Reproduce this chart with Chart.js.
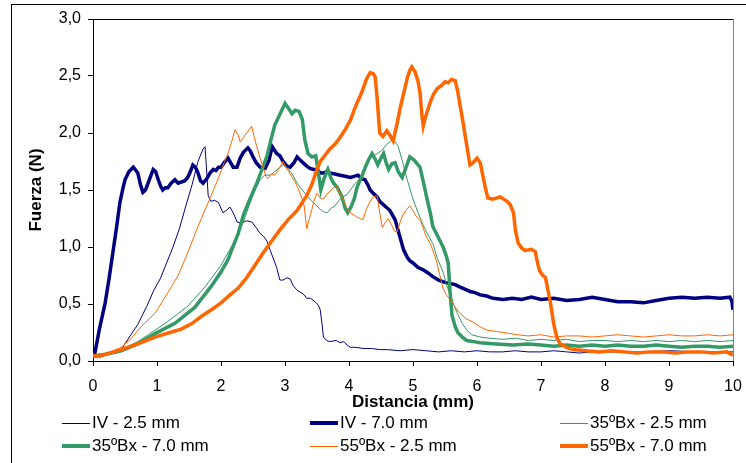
<!DOCTYPE html>
<html><head><meta charset="utf-8">
<script src="https://cdn.jsdelivr.net/npm/chart.js@4"></script>
<style>
html,body{margin:0;padding:0;background:#fff;}
#wrap{position:relative;width:746px;height:463px;overflow:hidden;background:#fff;}
#frame{position:absolute;left:11px;top:4px;width:800px;height:500px;border-left:1px solid #000;border-top:1px solid #000;}
#c{position:absolute;left:0;top:0;}
.lt{position:absolute;font:17px "Liberation Sans",Arial,sans-serif;color:#000;white-space:nowrap;line-height:18px;}
.ls{position:absolute;width:28px;}
</style></head>
<body><div id="wrap"><div id="frame"></div><canvas id="c" width="746" height="463"></canvas></div>
<script>
// ---- data (x = distancia mm, y = fuerza N) ----
const seriesNames = ["IV - 2.5 mm", "IV - 7.0 mm", "35\u00BABx - 2.5 mm", "35\u00BABx - 7.0 mm", "55\u00BABx - 2.5 mm", "55\u00BABx - 7.0 mm"];
const xTicks = [0,1,2,3,4,5,6,7,8,9,10];
const yTicks = [0,0.5,1,1.5,2,2.5,3];

const iv25 = [[0,0.05],[0.1,0.06],[0.2,0.06],[0.3,0.08],[0.44,0.10],[0.58,0.22],[0.7,0.32],[0.84,0.48],[0.95,0.62],[1.05,0.72],[1.15,0.86],[1.25,1.0],[1.35,1.16],[1.45,1.36],[1.55,1.55],[1.64,1.75],[1.72,1.86],[1.75,1.88],[1.77,1.72],[1.8,1.45],[1.84,1.40],[1.9,1.41],[1.96,1.39],[2.03,1.30],[2.08,1.32],[2.14,1.35],[2.2,1.29],[2.25,1.22],[2.32,1.21],[2.4,1.23],[2.48,1.22],[2.55,1.17],[2.61,1.12],[2.67,1.09],[2.72,1.05],[2.77,0.97],[2.81,0.91],[2.87,0.82],[2.92,0.71],[2.97,0.71],[3.03,0.73],[3.08,0.72],[3.13,0.66],[3.19,0.62],[3.25,0.60],[3.3,0.58],[3.34,0.55],[3.4,0.55],[3.47,0.52],[3.52,0.49],[3.55,0.45],[3.58,0.32],[3.6,0.21],[3.65,0.18],[3.7,0.17],[3.8,0.18],[3.86,0.16],[3.92,0.17],[3.97,0.14],[4.02,0.12],[4.1,0.12],[4.22,0.11],[4.35,0.11],[4.48,0.10],[4.6,0.10],[4.8,0.09],[5.0,0.10],[5.2,0.09],[5.4,0.08],[5.6,0.09],[5.8,0.08],[6.0,0.09],[6.2,0.08],[6.4,0.08],[6.6,0.09],[6.8,0.08],[7.0,0.08],[7.2,0.09],[7.4,0.08],[7.6,0.07],[7.8,0.08],[8.0,0.08],[8.5,0.08],[9.0,0.09],[9.5,0.08],[10,0.08]];

const iv70 = [[0,0.05],[0.03,0.07],[0.1,0.28],[0.19,0.51],[0.25,0.72],[0.31,0.95],[0.37,1.18],[0.42,1.39],[0.47,1.52],[0.5,1.59],[0.56,1.66],[0.63,1.70],[0.7,1.65],[0.74,1.55],[0.78,1.48],[0.82,1.50],[0.86,1.56],[0.9,1.62],[0.94,1.68],[0.98,1.66],[1.02,1.59],[1.06,1.53],[1.09,1.50],[1.13,1.52],[1.17,1.52],[1.22,1.56],[1.28,1.59],[1.33,1.56],[1.38,1.57],[1.43,1.58],[1.48,1.61],[1.52,1.66],[1.56,1.72],[1.6,1.70],[1.64,1.65],[1.68,1.58],[1.72,1.56],[1.78,1.60],[1.83,1.65],[1.88,1.68],[1.92,1.67],[1.96,1.70],[2.0,1.70],[2.05,1.74],[2.11,1.78],[2.15,1.74],[2.19,1.70],[2.25,1.70],[2.3,1.78],[2.35,1.83],[2.42,1.87],[2.46,1.84],[2.5,1.79],[2.55,1.74],[2.61,1.70],[2.69,1.69],[2.75,1.76],[2.8,1.88],[2.87,1.82],[2.92,1.80],[2.97,1.75],[3.03,1.71],[3.08,1.70],[3.14,1.74],[3.19,1.79],[3.24,1.76],[3.28,1.74],[3.34,1.71],[3.39,1.69],[3.45,1.68],[3.5,1.68],[3.55,1.65],[3.6,1.65],[3.65,1.66],[3.7,1.65],[3.78,1.64],[3.86,1.63],[3.94,1.62],[4.02,1.61],[4.08,1.62],[4.14,1.63],[4.2,1.60],[4.25,1.59],[4.3,1.54],[4.33,1.50],[4.38,1.47],[4.44,1.44],[4.48,1.40],[4.56,1.36],[4.64,1.32],[4.72,1.24],[4.8,1.08],[4.85,0.98],[4.91,0.91],[4.95,0.88],[5.0,0.86],[5.08,0.82],[5.16,0.80],[5.24,0.77],[5.31,0.74],[5.4,0.71],[5.5,0.69],[5.58,0.68],[5.66,0.67],[5.73,0.65],[5.81,0.63],[5.89,0.61],[5.97,0.60],[6.05,0.58],[6.15,0.57],[6.25,0.55],[6.41,0.54],[6.55,0.55],[6.7,0.54],[6.85,0.56],[7.0,0.54],[7.2,0.55],[7.4,0.53],[7.6,0.54],[7.8,0.56],[8.0,0.54],[8.2,0.52],[8.4,0.52],[8.6,0.51],[8.8,0.53],[9.0,0.55],[9.2,0.56],[9.4,0.55],[9.6,0.56],[9.8,0.55],[9.95,0.56],[9.98,0.53],[10,0.45]];

const g25 = [[0,0.05],[0.1,0.05],[0.2,0.06],[0.44,0.10],[0.7,0.17],[0.97,0.27],[1.2,0.36],[1.48,0.48],[1.75,0.65],[2.0,0.84],[2.2,1.04],[2.35,1.22],[2.45,1.38],[2.55,1.52],[2.61,1.59],[2.68,1.63],[2.77,1.63],[2.84,1.66],[2.92,1.70],[2.97,1.72],[3.03,1.70],[3.1,1.65],[3.19,1.56],[3.27,1.50],[3.34,1.45],[3.42,1.40],[3.5,1.36],[3.55,1.33],[3.6,1.31],[3.66,1.30],[3.72,1.34],[3.78,1.36],[3.86,1.42],[3.91,1.44],[3.97,1.46],[4.02,1.50],[4.1,1.56],[4.17,1.60],[4.24,1.70],[4.3,1.76],[4.36,1.79],[4.44,1.82],[4.5,1.84],[4.59,1.90],[4.65,1.93],[4.7,1.94],[4.77,1.88],[4.84,1.74],[4.91,1.59],[5.0,1.42],[5.08,1.30],[5.16,1.19],[5.24,1.10],[5.31,1.03],[5.38,0.90],[5.47,0.78],[5.53,0.66],[5.58,0.58],[5.64,0.49],[5.69,0.42],[5.77,0.33],[5.84,0.27],[5.92,0.23],[6.05,0.21],[6.2,0.20],[6.4,0.19],[6.6,0.20],[6.8,0.18],[7.0,0.19],[7.2,0.18],[7.4,0.19],[7.6,0.17],[7.8,0.18],[8.0,0.18],[8.2,0.17],[8.4,0.18],[8.6,0.17],[8.8,0.18],[9.0,0.17],[9.2,0.18],[9.4,0.17],[9.6,0.18],[9.8,0.17],[10,0.18]];

const g70 = [[0,0.04],[0.1,0.05],[0.2,0.06],[0.44,0.09],[0.7,0.15],[0.97,0.24],[1.28,0.33],[1.59,0.47],[1.84,0.65],[2.0,0.78],[2.11,0.89],[2.2,1.02],[2.27,1.12],[2.35,1.28],[2.45,1.42],[2.56,1.56],[2.64,1.68],[2.72,1.80],[2.78,1.94],[2.84,2.07],[2.9,2.14],[2.95,2.20],[3.0,2.26],[3.05,2.22],[3.11,2.17],[3.16,2.20],[3.22,2.19],[3.27,2.12],[3.31,1.94],[3.36,1.82],[3.42,1.79],[3.48,1.80],[3.53,1.62],[3.56,1.50],[3.61,1.60],[3.67,1.68],[3.72,1.60],[3.76,1.56],[3.82,1.52],[3.89,1.44],[3.94,1.34],[3.98,1.30],[4.03,1.35],[4.08,1.42],[4.13,1.53],[4.2,1.62],[4.27,1.72],[4.31,1.77],[4.36,1.82],[4.41,1.77],[4.45,1.72],[4.5,1.78],[4.54,1.82],[4.58,1.74],[4.62,1.68],[4.67,1.73],[4.72,1.74],[4.77,1.66],[4.83,1.61],[4.88,1.68],[4.95,1.79],[5.02,1.76],[5.11,1.70],[5.17,1.55],[5.22,1.42],[5.27,1.30],[5.31,1.18],[5.38,1.10],[5.47,1.00],[5.52,0.92],[5.55,0.86],[5.58,0.60],[5.61,0.40],[5.66,0.30],[5.7,0.25],[5.77,0.21],[5.84,0.18],[5.95,0.17],[6.05,0.16],[6.3,0.15],[6.56,0.14],[6.8,0.15],[7.0,0.14],[7.2,0.13],[7.4,0.14],[7.6,0.13],[7.8,0.14],[8.0,0.13],[8.2,0.14],[8.4,0.13],[8.6,0.13],[8.8,0.14],[9.0,0.13],[9.2,0.12],[9.4,0.13],[9.6,0.13],[9.8,0.12],[10,0.13]];

const o25 = [[0,0.04],[0.2,0.06],[0.44,0.12],[0.6,0.20],[0.75,0.30],[0.97,0.42],[1.17,0.60],[1.33,0.75],[1.48,0.95],[1.64,1.18],[1.8,1.39],[1.95,1.59],[2.05,1.74],[2.11,1.82],[2.17,1.93],[2.22,2.03],[2.27,1.98],[2.3,1.92],[2.35,1.96],[2.4,2.00],[2.44,2.03],[2.48,2.06],[2.52,1.96],[2.56,1.88],[2.61,1.78],[2.66,1.70],[2.7,1.62],[2.73,1.60],[2.79,1.64],[2.84,1.63],[2.9,1.68],[2.97,1.75],[3.01,1.70],[3.05,1.67],[3.1,1.62],[3.15,1.58],[3.2,1.52],[3.25,1.45],[3.3,1.36],[3.34,1.16],[3.38,1.25],[3.42,1.33],[3.46,1.42],[3.5,1.47],[3.55,1.43],[3.6,1.42],[3.65,1.46],[3.7,1.49],[3.76,1.52],[3.81,1.53],[3.86,1.47],[3.91,1.41],[3.96,1.35],[4.02,1.30],[4.08,1.28],[4.13,1.26],[4.18,1.25],[4.22,1.24],[4.27,1.33],[4.33,1.40],[4.38,1.44],[4.44,1.45],[4.48,1.30],[4.52,1.17],[4.56,1.21],[4.61,1.25],[4.66,1.20],[4.71,1.14],[4.75,1.13],[4.8,1.22],[4.84,1.28],[4.9,1.33],[4.95,1.36],[5.0,1.32],[5.06,1.26],[5.12,1.23],[5.2,1.10],[5.27,1.03],[5.33,0.94],[5.37,0.87],[5.42,0.75],[5.47,0.64],[5.52,0.58],[5.58,0.54],[5.65,0.48],[5.73,0.42],[5.83,0.37],[5.94,0.34],[6.05,0.30],[6.16,0.27],[6.3,0.26],[6.41,0.25],[6.63,0.23],[6.8,0.22],[7.0,0.23],[7.2,0.21],[7.4,0.22],[7.6,0.22],[7.8,0.21],[8.0,0.22],[8.2,0.23],[8.4,0.22],[8.6,0.21],[8.8,0.22],[9.0,0.23],[9.2,0.22],[9.4,0.22],[9.6,0.23],[9.8,0.22],[10,0.23]];

const o70 = [[0,0.05],[0.1,0.04],[0.2,0.06],[0.44,0.10],[0.7,0.15],[0.97,0.21],[1.2,0.25],[1.38,0.28],[1.55,0.33],[1.69,0.39],[1.85,0.45],[2.0,0.51],[2.14,0.58],[2.27,0.64],[2.4,0.73],[2.53,0.84],[2.66,0.95],[2.79,1.05],[2.92,1.15],[3.05,1.24],[3.19,1.32],[3.28,1.40],[3.34,1.45],[3.42,1.55],[3.5,1.68],[3.55,1.75],[3.62,1.80],[3.7,1.86],[3.78,1.90],[3.86,1.96],[3.94,2.03],[4.02,2.11],[4.08,2.20],[4.13,2.27],[4.18,2.33],[4.22,2.39],[4.27,2.47],[4.33,2.53],[4.38,2.52],[4.41,2.49],[4.44,2.30],[4.48,2.00],[4.53,1.97],[4.59,2.02],[4.64,1.98],[4.69,1.93],[4.75,2.08],[4.8,2.22],[4.86,2.36],[4.91,2.48],[4.95,2.55],[4.98,2.58],[5.03,2.54],[5.08,2.45],[5.11,2.35],[5.14,2.15],[5.16,2.06],[5.2,2.15],[5.27,2.27],[5.32,2.34],[5.38,2.39],[5.45,2.42],[5.5,2.45],[5.55,2.44],[5.6,2.47],[5.66,2.46],[5.7,2.36],[5.73,2.26],[5.78,2.10],[5.82,1.96],[5.89,1.72],[5.94,1.74],[6.0,1.78],[6.05,1.74],[6.09,1.63],[6.13,1.52],[6.17,1.43],[6.25,1.42],[6.36,1.44],[6.47,1.40],[6.52,1.37],[6.57,1.30],[6.6,1.15],[6.64,1.04],[6.7,0.99],[6.75,0.97],[6.85,0.98],[6.91,0.96],[6.95,0.85],[6.98,0.79],[7.03,0.75],[7.07,0.73],[7.11,0.62],[7.15,0.50],[7.2,0.32],[7.25,0.20],[7.3,0.15],[7.4,0.12],[7.5,0.10],[7.7,0.09],[7.9,0.08],[8.1,0.09],[8.3,0.08],[8.5,0.07],[8.7,0.08],[8.9,0.08],[9.1,0.07],[9.3,0.08],[9.5,0.08],[9.7,0.07],[9.9,0.08],[10,0.05]];

const seriesData = [iv25, iv70, g25, g70, o25, o70];
const seriesColors = ["#000080", "#000080", "#339966", "#339966", "#FF6600", "#FF6600"];
const seriesWidths = [1, 3.5, 1, 3.5, 1, 3.5];

// ---- legend (HTML, real text) ----
const wrap = document.getElementById('wrap');
const legCols = [62, 310, 560];
const legRows = [423, 446];
seriesNames.forEach((name, i) => {
  const col = legCols[i % 3], row = legRows[Math.floor(i / 3)];
  const sw = document.createElement('div');
  sw.className = 'ls';
  sw.style.left = col + 'px';
  sw.style.top = (row - seriesWidths[i] / 2) + 'px';
  sw.style.height = seriesWidths[i] + 'px';
  sw.style.background = seriesColors[i];
  wrap.appendChild(sw);
  const t = document.createElement('div');
  t.className = 'lt';
  t.style.left = (col + 30) + 'px';
  t.style.top = (row - 9) + 'px';
  t.textContent = name;
  wrap.appendChild(t);
});

const frameLines = {
  id: 'frameLines',
  afterDatasetsDraw(chart) {
    const {ctx, chartArea: a} = chart;
    ctx.save();
    ctx.lineWidth = 1;
    ctx.strokeStyle = '#000';
    ctx.beginPath(); ctx.moveTo(a.left, a.top + 0.5); ctx.lineTo(a.right, a.top + 0.5); ctx.stroke();
    ctx.strokeStyle = '#808080';
    ctx.beginPath(); ctx.moveTo(a.right + 0.5, a.top); ctx.lineTo(a.right + 0.5, a.bottom); ctx.stroke();
    ctx.restore();
  }
};

const FONT = '"Liberation Sans", Arial, sans-serif';
new Chart(document.getElementById('c'), {
  type: 'line',
  data: {
    datasets: seriesData.map((d, i) => ({
      label: seriesNames[i],
      data: d.map(p => ({x: p[0], y: p[1]})),
      borderColor: seriesColors[i],
      backgroundColor: seriesColors[i],
      borderWidth: seriesWidths[i],
      pointRadius: 0,
      tension: 0,
      fill: false,
      order: 6 - i
    }))
  },
  options: {
    responsive: false,
    animation: false,
    layout: {padding: {left: 0, top: 19, right: 13, bottom: 50}},
    plugins: {legend: {display: false}, tooltip: {enabled: false}},
    scales: {
      x: {
        type: 'linear', min: 0, max: 10,
        afterBuildTicks: s => { s.ticks = xTicks.map(v => ({value: v})); },
        afterFit: s => { s.height = 52; s.paddingLeft = 0; s.paddingRight = 0; },
        ticks: {color: '#000', font: {family: FONT, size: 16}, padding: 11, maxRotation: 0,
                callback: v => String(v)},
        grid: {drawOnChartArea: false, drawTicks: true, tickLength: 5, color: '#000'},
        border: {color: '#000', width: 1},
        title: {display: true, text: 'Distancia (mm)', color: '#000', font: {family: FONT, size: 17, weight: 'bold'}, padding: {top: 0, bottom: 0}}
      },
      y: {
        min: 0, max: 3,
        afterBuildTicks: s => { s.ticks = yTicks.map(v => ({value: v})); },
        afterFit: s => { s.width = 93; s.paddingTop = 0; s.paddingBottom = 0; },
        ticks: {color: '#000', font: {family: FONT, size: 16}, padding: 7,
                callback: v => v.toFixed(1).replace('.', ',')},
        grid: {drawOnChartArea: false, drawTicks: true, tickLength: 5, color: '#000'},
        border: {color: '#000', width: 1},
        title: {display: true, text: 'Fuerza (N)', color: '#000', font: {family: FONT, size: 17, weight: 'bold'}, padding: {top: 26, bottom: 0}}
      }
    }
  },
  plugins: [frameLines]
});
</script></body></html>
